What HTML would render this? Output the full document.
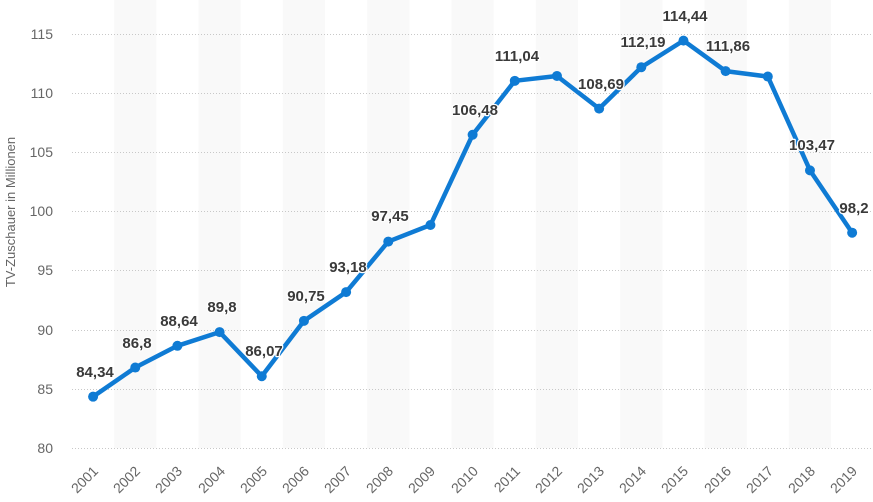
<!DOCTYPE html>
<html><head><meta charset="utf-8"><style>
html,body{margin:0;padding:0;background:#fff;}
svg{display:block;font-family:"Liberation Sans",Arial,sans-serif;}
</style></head><body>
<svg width="873" height="502" viewBox="0 0 873 502" xmlns="http://www.w3.org/2000/svg">
<rect width="873" height="502" fill="#fff"/>
<!-- bands (even years) -->
<g fill="#f9f9f9">
<rect x="114.17" y="0" width="42.17" height="448"/>
<rect x="198.51" y="0" width="42.17" height="448"/>
<rect x="282.85" y="0" width="42.17" height="448"/>
<rect x="367.19" y="0" width="42.17" height="448"/>
<rect x="451.53" y="0" width="42.17" height="448"/>
<rect x="535.87" y="0" width="42.17" height="448"/>
<rect x="620.21" y="0" width="42.17" height="448"/>
<rect x="704.55" y="0" width="42.17" height="448"/>
<rect x="788.89" y="0" width="42.17" height="448"/>
</g>
<!-- gridlines -->
<g stroke="#c8c8c8" stroke-width="1" stroke-dasharray="1,2">
<line x1="72" x2="873" y1="448.5" y2="448.5"/>
<line x1="72" x2="873" y1="389.5" y2="389.5"/>
<line x1="72" x2="873" y1="330.5" y2="330.5"/>
<line x1="72" x2="873" y1="270.5" y2="270.5"/>
<line x1="72" x2="873" y1="211.5" y2="211.5"/>
<line x1="72" x2="873" y1="152.5" y2="152.5"/>
<line x1="72" x2="873" y1="93.5" y2="93.5"/>
<line x1="72" x2="873" y1="34.5" y2="34.5"/>
</g>
<!-- y labels -->
<g fill="#666" font-size="14" text-anchor="end">
<text x="53" y="453">80</text>
<text x="53" y="394">85</text>
<text x="53" y="335">90</text>
<text x="53" y="275">95</text>
<text x="53" y="216">100</text>
<text x="53" y="157">105</text>
<text x="53" y="98">110</text>
<text x="53" y="39">115</text>
</g>
<text transform="translate(15,212) rotate(-90)" fill="#666" font-size="13" text-anchor="middle">TV-Zuschauer in Millionen</text>
<!-- x labels -->
<g fill="#666" font-size="14" text-anchor="end">
<text transform="translate(99,472) rotate(-45)">2001</text>
<text transform="translate(141,472) rotate(-45)">2002</text>
<text transform="translate(183,472) rotate(-45)">2003</text>
<text transform="translate(226,472) rotate(-45)">2004</text>
<text transform="translate(268,472) rotate(-45)">2005</text>
<text transform="translate(310,472) rotate(-45)">2006</text>
<text transform="translate(352,472) rotate(-45)">2007</text>
<text transform="translate(394,472) rotate(-45)">2008</text>
<text transform="translate(436,472) rotate(-45)">2009</text>
<text transform="translate(479,472) rotate(-45)">2010</text>
<text transform="translate(521,472) rotate(-45)">2011</text>
<text transform="translate(563,472) rotate(-45)">2012</text>
<text transform="translate(605,472) rotate(-45)">2013</text>
<text transform="translate(647,472) rotate(-45)">2014</text>
<text transform="translate(689,472) rotate(-45)">2015</text>
<text transform="translate(732,472) rotate(-45)">2016</text>
<text transform="translate(774,472) rotate(-45)">2017</text>
<text transform="translate(816,472) rotate(-45)">2018</text>
<text transform="translate(858,472) rotate(-45)">2019</text>
</g>
<!-- series -->
<polyline fill="none" stroke="#0f7bd4" stroke-width="4.5" stroke-linejoin="round" stroke-linecap="round"
points="93.09,396.66 135.26,367.56 177.43,345.80 219.60,332.08 261.77,376.20 303.94,320.84 346.11,292.09 388.28,241.58 430.45,225.02 472.62,134.76 514.79,80.82 556.96,75.97 599.13,108.62 641.30,67.22 683.47,40.61 725.64,71.12 767.81,76.56 809.98,170.36 852.15,232.71"/>
<g fill="#0f7bd4">
<circle cx="93.09" cy="396.66" r="5"/>
<circle cx="135.26" cy="367.56" r="5"/>
<circle cx="177.43" cy="345.80" r="5"/>
<circle cx="219.60" cy="332.08" r="5"/>
<circle cx="261.77" cy="376.20" r="5"/>
<circle cx="303.94" cy="320.84" r="5"/>
<circle cx="346.11" cy="292.09" r="5"/>
<circle cx="388.28" cy="241.58" r="5"/>
<circle cx="430.45" cy="225.02" r="5"/>
<circle cx="472.62" cy="134.76" r="5"/>
<circle cx="514.79" cy="80.82" r="5"/>
<circle cx="556.96" cy="75.97" r="5"/>
<circle cx="599.13" cy="108.62" r="5"/>
<circle cx="641.30" cy="67.22" r="5"/>
<circle cx="683.47" cy="40.61" r="5"/>
<circle cx="725.64" cy="71.12" r="5"/>
<circle cx="767.81" cy="76.56" r="5"/>
<circle cx="809.98" cy="170.36" r="5"/>
<circle cx="852.15" cy="232.71" r="5"/>
</g>
<!-- data labels -->
<g fill="#3a3a3a" font-size="15" font-weight="bold" text-anchor="middle" stroke="#fff" stroke-width="2.5" stroke-linejoin="round" style="paint-order:stroke">
<text x="95" y="377">84,34</text>
<text x="137" y="348">86,8</text>
<text x="179" y="326">88,64</text>
<text x="222" y="312">89,8</text>
<text x="264" y="356">86,07</text>
<text x="306" y="301">90,75</text>
<text x="348" y="272">93,18</text>
<text x="390" y="221">97,45</text>
<text x="475" y="115">106,48</text>
<text x="517" y="61">111,04</text>
<text x="601" y="89">108,69</text>
<text x="643" y="47">112,19</text>
<text x="685" y="21">114,44</text>
<text x="728" y="51">111,86</text>
<text x="812" y="150">103,47</text>
<text x="854" y="213">98,2</text>
</g>
</svg>
</body></html>
